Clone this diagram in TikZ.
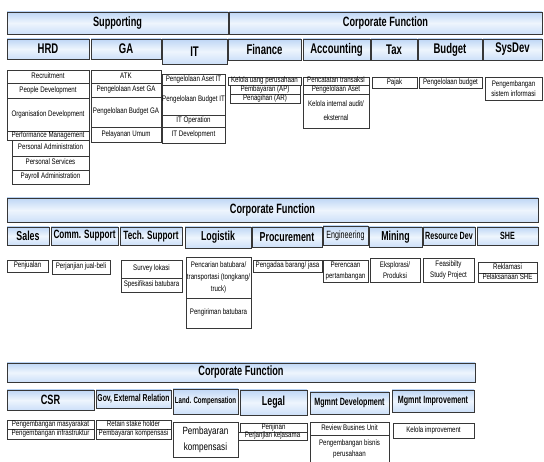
\documentclass[tikz,border=0pt]{standalone}
\usepackage{fontspec}
\setmainfont{Liberation Sans}[FakeStretch=0.77]
\newfontfamily\headfont{Liberation Sans}[FakeStretch=0.68]
\usetikzlibrary{shadows}

\definecolor{hdtop}{RGB}{190,214,245}
\definecolor{hdmid}{RGB}{238,245,253}
\definecolor{hdbot}{RGB}{205,224,249}
\definecolor{rim}{RGB}{55,55,55}

% one box of the chart, from corner (x1,y1) to corner (x2,y2), in pixels
\newcommand{\cell}[7]{%
  \pgfmathsetmacro\cw{#5-#3}\pgfmathsetmacro\ch{#6-#4}%
  \node[#1, minimum width=\cw pt, minimum height=\ch pt] (#2) at ({(#3+#5)/2},{(#4+#6)/2}) {#7};}

\tikzset{
  box/.style={draw=rim, inner sep=0pt, outer sep=0pt, align=center,
              drop shadow={shadow xshift=0.8pt, shadow yshift=-0.8pt, opacity=0.35}},
  cat/.style={box, line width=0.8pt, top color=hdtop, bottom color=hdbot, middle color=hdmid,
              font=\headfont\bfseries\fontsize{13.5}{14}\selectfont},
  dept/.style={cat, font=\headfont\bfseries\fontsize{14}{15}\selectfont},
  mid/.style={font=\headfont\bfseries\fontsize{12}{13}\selectfont},
  small/.style={font=\headfont\bfseries\fontsize{10.5}{11}\selectfont},
  multi/.style={box, line width=0.5pt, fill=white, font=\fontsize{8}{10}\selectfont},
  item/.style={multi, text height=5.5pt, text depth=1.5pt}
}

\begin{document}
\begin{tikzpicture}[x=1pt, y=-1pt]
\useasboundingbox (0,0) rectangle (544,462);

% first block
\cell{cat}{sup}{7}{12}{228}{34}{Supporting}
\cell{cat}{corpA}{229}{12}{542}{34}{Corporate Function}
\cell{dept}{hrd}{7}{39}{89}{59}{HRD}
\cell{dept}{ga}{91}{39}{161}{59}{GA}
\cell{dept}{it}{162}{39}{227}{64}{IT}
\cell{dept}{fin}{228}{39}{301}{60}{Finance}
\cell{dept}{acc}{303}{39}{370}{60}{Accounting}
\cell{dept}{tax}{371}{39}{417}{60}{Tax}
\cell{dept}{bud}{418}{39}{482}{60}{Budget}
\cell{dept}{sysdev}{483}{39}{542}{60}{SysDev}

\cell{item}{hrdA}{7}{70}{89}{83}{Recruitment}
\cell{item}{hrdB}{7}{83}{89}{98}{People Development}
\cell{item}{hrdC}{7}{98}{89}{131}{Organisation Development}
\cell{item}{hrdD}{7}{131}{89}{140}{Performance Management}
\cell{item}{hrdE}{12}{140}{89}{156}{Personal Administration}
\cell{item}{hrdF}{12}{156}{89}{170}{Personal Services}
\cell{item}{hrdG}{12}{170}{89}{184}{Payroll Administration}

\cell{item}{gaA}{91}{70}{161}{83}{ATK}
\cell{item}{gaB}{91}{83}{161}{97}{Pengelolaan Aset GA}
\cell{item}{gaC}{91}{97}{161}{127}{Pengelolaan Budget GA}
\cell{item}{gaD}{91}{127}{161}{142}{Pelayanan Umum}

\cell{item}{itA}{162}{74}{225}{85}{Pengelolaan Aset IT}
\cell{item}{itB}{162}{85}{225}{115}{Pengelolaan Budget IT}
\cell{item}{itC}{162}{115}{225}{127}{IT Operation}
\cell{item}{itD}{162}{127}{225}{143}{IT Development}

\cell{item}{finA}{228}{77}{301}{85}{Kelola uang perusahaan}
\cell{item}{finB}{230}{85}{300}{94}{Pembayaran (AP)}
\cell{item}{finC}{230}{94}{300}{103}{Penagihan (AR)}
\cell{item}{accA}{303}{77}{369}{85}{Pencatatan transaksi}
\cell{item}{accB}{303}{85}{369}{94}{Pengelolaan Aset}
\cell{multi, font=\fontsize{8}{14}\selectfont}{accC}{303}{94}{369}{128}{Kelola internal audit/\\ eksternal}
\cell{item}{taxA}{372}{77}{417}{88}{Pajak}
\cell{item}{budA}{419}{77}{482}{88}{Pengelolaan budget}
\cell{multi}{sysA}{485}{77}{542}{100}{Pengembangan\\ sistem informasi}

% second block
\cell{cat}{corpB}{7}{198}{538}{222}{Corporate Function}
\cell{dept, font=\headfont\bfseries\fontsize{13}{14}\selectfont}{sales}{7}{227}{49}{245}{Sales}
\cell{dept, mid}{comm}{51}{227}{118}{245}{Comm. Support}
\cell{dept, mid}{tech}{120}{227}{182}{245}{Tech. Support}
\cell{dept, font=\headfont\bfseries\fontsize{13}{14}\selectfont}{log}{185}{227}{251}{248}{Logistik}
\cell{dept, font=\headfont\bfseries\fontsize{13}{14}\selectfont}{proc}{252}{227}{322}{247}{Procurement}
\cell{dept, font=\headfont\fontsize{10.5}{11}\selectfont}{eng}{323}{226}{368}{245}{Engineering}
\cell{dept, font=\headfont\bfseries\fontsize{13}{14}\selectfont}{mine}{369}{227}{422}{247}{Mining}
\cell{dept, small}{res}{423}{227}{475}{245}{Resource Dev}
\cell{dept, small}{she}{477}{227}{538}{245}{SHE}

\cell{item}{salesA}{7}{260}{48}{272}{Penjualan}
\cell{item}{commA}{52}{260}{110}{274}{Perjanjian jual-beli}
\cell{item}{techA}{121}{260}{182}{278}{Survey lokasi}
\cell{item}{techB}{121}{278}{182}{292}{Spesifikasi batubara}
\cell{multi, font=\fontsize{8}{12}\selectfont}{logA}{186}{257}{251}{298}{Pencarian batubara/\\ transportasi (tongkang/\\ truck)}
\cell{item}{logB}{186}{298}{251}{328}{Pengiriman batubara}
\cell{item}{procA}{253}{260}{322}{272}{Pengadaa barang/ jasa}
\cell{multi, font=\fontsize{8}{11}\selectfont}{engA}{323}{260}{368}{282}{Perencaan\\ pertambangan}
\cell{multi, font=\fontsize{8}{11}\selectfont}{mineA}{370}{258}{420}{282}{Eksplorasi/\\ Produksi}
\cell{multi, font=\fontsize{8}{11}\selectfont}{resA}{423}{258}{474}{282}{Feasibilty\\ Study Project}
\cell{item}{sheA}{478}{262}{537}{273}{Reklamasi}
\cell{item}{sheB}{478}{273}{537}{282}{Pelaksanaan SHE}

% third block
\cell{cat}{corpC}{7}{363}{475}{382}{Corporate Function}
\cell{dept, font=\headfont\bfseries\fontsize{13.5}{14}\selectfont}{csr}{7}{390}{94}{410}{CSR}
\cell{dept, font=\headfont\bfseries\fontsize{10}{11}\selectfont}{gov}{96}{390}{171}{408}{Gov, External Relation}
\cell{dept, font=\headfont\bfseries\fontsize{9}{10}\selectfont}{land}{173}{389}{238}{414}{Land. Compensation}
\cell{dept, font=\headfont\bfseries\fontsize{13}{14}\selectfont}{legal}{240}{390}{307}{415}{Legal}
\cell{dept, small}{mdev}{310}{392}{389}{414}{Mgmnt Development}
\cell{dept, small}{mimp}{392}{390}{474}{412}{Mgmnt Improvement}

\cell{item}{csrA}{7}{420}{94}{429}{Pengembangan masyarakat}
\cell{item}{csrB}{7}{429}{94}{439}{Pengembangan infrastruktur}
\cell{item}{govA}{96}{420}{171}{429}{Retain stake holder}
\cell{item}{govB}{96}{429}{171}{439}{Pembayaran kompensasi}
\cell{multi, font=\fontsize{10.5}{16}\selectfont}{landA}{173}{422}{238}{457}{Pembayaran\\ kompensasi}
\cell{item}{legalA}{240}{423}{307}{432}{Perijinan}
\cell{item}{legalB}{238}{432}{307}{440}{Perjanjian kejasama}
\cell{item}{mdevA}{310}{422}{389}{435}{Review Busines Unit}
\cell{multi, font=\fontsize{8}{11}\selectfont}{mdevB}{310}{435}{389}{462}{Pengembangan bisnis\\ perusahaan}
\cell{item}{mimpA}{393}{423}{474}{438}{Kelola improvement}
\end{tikzpicture}
\end{document}
